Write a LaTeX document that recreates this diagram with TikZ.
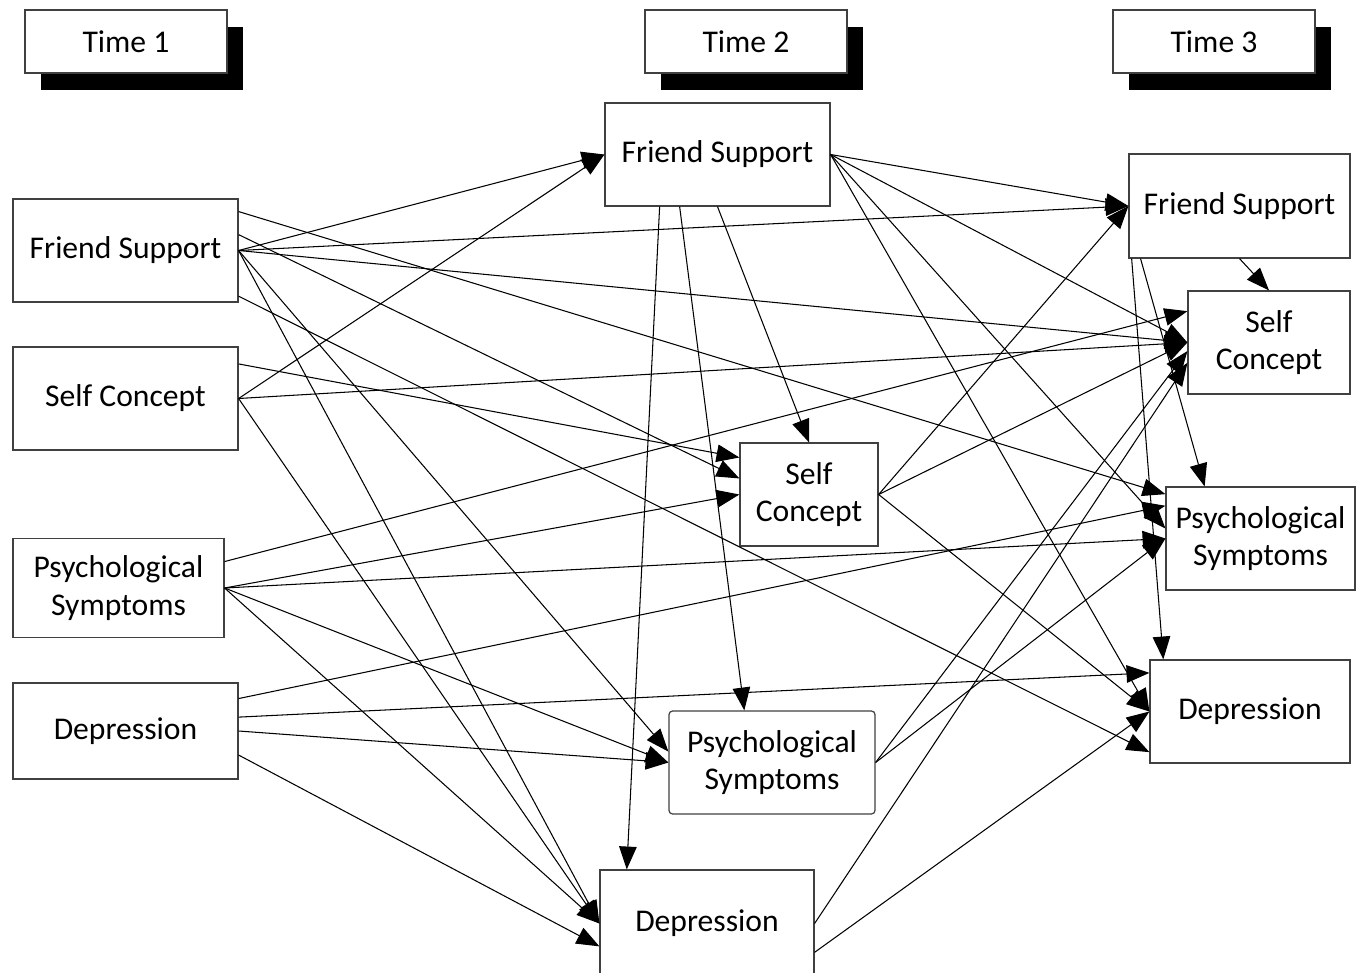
\documentclass[tikz,border=0pt]{standalone}
\usepackage{fontspec}
\setmainfont{Carlito}
\usetikzlibrary{arrows.meta,shadows}

\tikzset{
  box/.style={draw=black!75, line width=0.7pt, fill=white, align=center, inner sep=2pt, font=\fontsize{18}{21.5}\selectfont},
  timebox/.style={box, minimum width=4.04cm, minimum height=1.26cm, drop shadow={shadow xshift=0.32cm, shadow yshift=-0.34cm, fill=black, opacity=1}},
  link/.style={line width=0.6pt, -{Triangle[length=13pt,width=10pt]}}
}

\begin{document}
\begin{tikzpicture}
[x=0.02cm,y=-0.02cm]
\useasboundingbox (0,0) rectangle (1356,973);

\node[timebox] (t1) at (126,41.5) {Time 1};
\node[timebox] (t2) at (746,41.5) {Time 2};
\node[timebox] (t3) at (1214,41.5) {Time 3};

\node[box, minimum width=4.5cm, minimum height=2.06cm] (fs1) at (125.5,250.5) {Friend Support};
\node[box, minimum width=4.5cm, minimum height=2.06cm] (sc1) at (125.5,398.5) {Self Concept};
\node[box, minimum width=4.22cm, minimum height=1.98cm] (ps1) at (118.5,588) {Psychological\\Symptoms};
\node[box, minimum width=4.5cm, minimum height=1.92cm] (d1) at (125.5,731) {Depression};

\node[box, minimum width=4.5cm, minimum height=2.06cm] (fs2) at (717.5,154.5) {Friend Support};
\node[box, minimum width=2.76cm, minimum height=2.06cm] (sc2) at (809,494.5) {Self\\Concept};
\node[box, rounded corners=2pt, minimum width=4.12cm, minimum height=2.06cm] (ps2) at (772,762.5) {Psychological\\Symptoms};
\node[box, minimum width=4.28cm, minimum height=2.14cm] (d2) at (707,923.5) {Depression};

\node[box, minimum width=4.42cm, minimum height=2.08cm] (fs3) at (1239.5,206) {Friend Support};
\node[box, minimum width=3.24cm, minimum height=2.06cm] (sc3) at (1269,342.5) {Self\\Concept};
\node[box, minimum width=3.78cm, minimum height=2.06cm] (ps3) at (1260.5,538.5) {Psychological\\Symptoms};
\node[box, minimum width=4.0cm, minimum height=2.06cm] (d3) at (1250,711.5) {Depression};

\foreach \from/\to in {fs1.east/fs2.west,fs1.east/fs3.west,fs1.east/sc3.west,fs1.19/ps3.155,fs1.8/sc2.167,fs1.east/ps2.174,fs1.east/d2.west,fs1.338/d3.202,
sc1.east/fs2.west,sc1.east/sc3.west,sc1.17/sc2.152,sc1.east/d2.west,
ps1.14/sc3.159,ps1.east/sc2.west,ps1.east/ps3.west,ps1.east/ps2.west,ps1.east/d2.west,
d1.16/ps3.161,d1.7/d3.159,d1.east/ps2.west,d1.348/d2.192,
fs2.222/d2.146,fs2.234/ps2.118,fs2.south/sc2.north,fs2.east/fs3.west,fs2.east/sc3.west,fs2.east/ps3.174,fs2.east/d3.west,
sc2.east/fs3.west,sc2.east/sc3.west,sc2.east/d3.west,
ps2.east/sc3.186,ps2.east/ps3.west,d2.east/sc3.194,d2.345/d3.west,
fs3.206/d3.149,fs3.208/ps3.137,fs3.south/sc3.north}
\draw[link] (\from) -- (\to);
\end{tikzpicture}
\end{document}
